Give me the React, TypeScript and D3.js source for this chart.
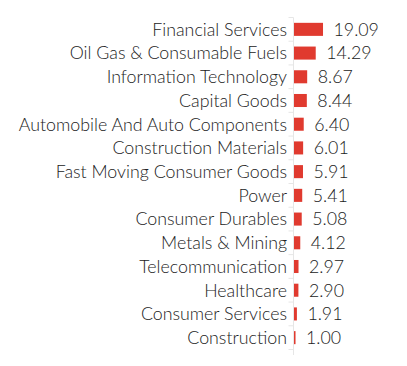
import React from "react";
import * as d3 from "d3";

const sectors = [
  "Financial Services",
  "Oil Gas & Consumable Fuels",
  "Information Technology",
  "Capital Goods",
  "Automobile And Auto Components",
  "Construction Materials",
  "Fast Moving Consumer Goods",
  "Power",
  "Consumer Durables",
  "Metals & Mining",
  "Telecommunication",
  "Healthcare",
  "Consumer Services",
  "Construction",
];
const weights = [19.09, 14.29, 8.67, 8.44, 6.4, 6.01, 5.91, 5.41, 5.08, 4.12, 2.97, 2.9, 1.91, 1.0];

const W = 407;
const H = 366;
const axisX = 293.5;

export default function App() {
  const y = d3.scaleBand().domain(sectors).range([17.5, 349.5]).paddingInner(0.45).paddingOuter(0.225);
  const x = d3.scaleLinear().domain([0, 20]).range([axisX, axisX + 30.4]);
  const font = "Lato, sans-serif";

  return (
    <svg width={W} height={H} style={{ position: "absolute", left: 0, top: 0 }}>
      <line x1={axisX} x2={axisX} y1={17.5} y2={355} stroke="#e6e6e6" strokeWidth={1} />
      {sectors.map((s, i) => {
        const yy = (y(s) as number) - (y.step() * y.paddingInner()) / 2;
        return <line key={"t" + i} x1={axisX - 5} x2={axisX} y1={yy} y2={yy} stroke="#e6e6e6" />;
      })}
      <line x1={axisX - 5} x2={axisX} y1={349.5} y2={349.5} stroke="#e6e6e6" />
      {sectors.map((s, i) => {
        const by = y(s) as number;
        const cy = by + y.bandwidth() / 2;
        const x1 = x(weights[i]);
        return (
          <g key={s}>
            <rect x={axisX + 0.5} y={by} width={x1 - axisX} height={y.bandwidth()} fill="#e03a2f" />
            <text x={287} y={cy} dy="0.36em" textAnchor="end" fontFamily={font} fontWeight={300} fontSize={17.8} fill="#222">
              {s}
            </text>
            <text x={x1 + 11} y={cy} dy="0.36em" fontFamily={font} fontWeight={300} fontSize={17.8} fill="#222">
              {weights[i].toFixed(2)}
            </text>
          </g>
        );
      })}
    </svg>
  );
}
